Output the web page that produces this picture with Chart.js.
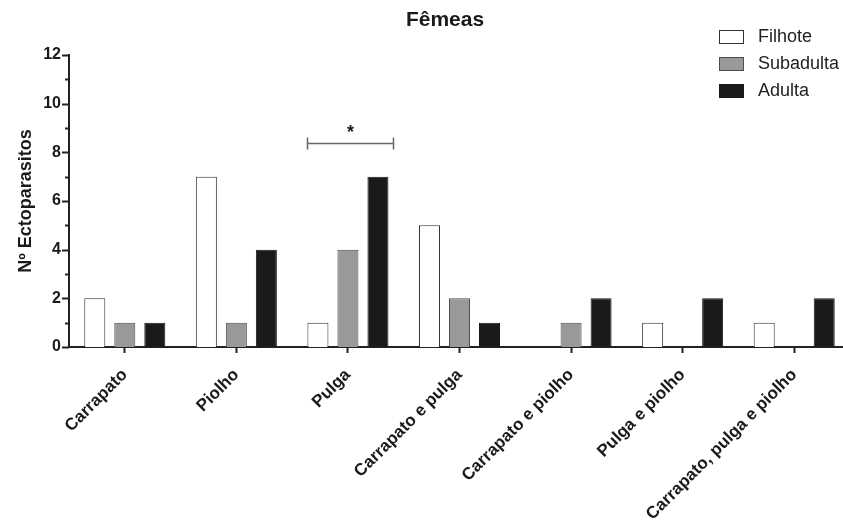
<!DOCTYPE html>
<html>
<head>
<meta charset="utf-8">
<script src="https://cdn.jsdelivr.net/npm/chart.js@4.4.0/dist/chart.umd.min.js"></script>
<style>
  html, body { margin: 0; padding: 0; background: #fff; overflow: hidden; }
  #wrap { position: relative; width: 852px; height: 520px; }
</style>
</head>
<body>
<div id="wrap"><canvas id="chart"></canvas></div>
<script>
// ─── data ───────────────────────────────────────────────────────────────
const TITLE      = 'Fêmeas';
const Y_TITLE    = 'Nº Ectoparasitos';
const categories = ['Carrapato', 'Piolho', 'Pulga', 'Carrapato e pulga',
                    'Carrapato e piolho', 'Pulga e piolho', 'Carrapato, pulga e piolho'];
const filhote    = [2, 7, 1, 5, 0, 1, 1];
const subadulta  = [1, 1, 4, 2, 1, 0, 0];
const adulta     = [1, 4, 7, 1, 2, 2, 2];
const yMin = 0, yMax = 12, yStep = 1, yLabelEvery = 2;

// significance bracket over "Pulga" (category index, offsets in category widths)
const bracket = { cat: 2, from: -0.37, to: 0.40, value: 8.4, label: '*' };

const FONT = '"Liberation Sans", Arial, Helvetica, sans-serif';
const INK  = '#1a1a1a';

Chart.defaults.font.family = FONT;
Chart.defaults.color = INK;

// ─── extra drawing: title, y ticks (major/minor), bracket, legend ──────
const extras = {
  id: 'extras',
  afterDraw(chart) {
    const { ctx, scales: { x, y } } = chart;
    ctx.save();

    // title
    ctx.fillStyle = INK;
    ctx.font = `bold 21px ${FONT}`;
    ctx.textAlign = 'center';
    ctx.textBaseline = 'middle';
    ctx.fillText(TITLE, 445, 20);

    // y ticks: long on labelled values, short otherwise
    ctx.strokeStyle = '#222';
    ctx.lineWidth = 2;
    y.ticks.forEach(t => {
      const py = Math.round(y.getPixelForValue(t.value)) + 0.5;
      const len = t.value % yLabelEvery === 0 ? 7 : 4;
      ctx.beginPath();
      ctx.moveTo(y.right, py);
      ctx.lineTo(y.right - len, py);
      ctx.stroke();
    });

    // bracket
    const cw  = x.width / categories.length;
    const cx  = x.getPixelForValue(bracket.cat);
    const x1  = Math.round(cx + bracket.from * cw) + 0.5;
    const x2  = Math.round(cx + bracket.to * cw) + 0.5;
    const by  = Math.round(y.getPixelForValue(bracket.value)) + 0.5;
    ctx.strokeStyle = '#666';
    ctx.lineWidth = 1.5;
    ctx.beginPath();
    ctx.moveTo(x1, by); ctx.lineTo(x2, by);
    ctx.moveTo(x1, by - 6); ctx.lineTo(x1, by + 6);
    ctx.moveTo(x2, by - 6); ctx.lineTo(x2, by + 6);
    ctx.stroke();
    ctx.fillStyle = INK;
    ctx.font = `bold 18px ${FONT}`;
    ctx.textAlign = 'center';
    ctx.textBaseline = 'middle';
    ctx.fillText(bracket.label, (x1 + x2) / 2, by - 10);

    // legend
    ctx.font = `18px ${FONT}`;
    ctx.textAlign = 'left';
    chart.data.datasets.forEach((ds, i) => {
      const top = 30 + i * 27;
      ctx.fillStyle = ds.backgroundColor;
      ctx.fillRect(719.5, top + 0.5, 24, 13);
      ctx.strokeStyle = ds.borderColor;
      ctx.lineWidth = 1;
      ctx.strokeRect(719.5, top + 0.5, 24, 13);
      ctx.fillStyle = '#222';
      ctx.fillText(ds.label, 758, top + 7);
    });

    ctx.restore();
  }
};

const mkSet = (label, data, fill, border) => ({
  label, data,
  backgroundColor: fill,
  borderColor: border,
  borderWidth: c => (c.raw === 0 ? 0 : 1),
  categoryPercentage: 0.807,
  barPercentage: 0.7,
});

new Chart(document.getElementById('chart'), {
  type: 'bar',
  data: {
    labels: categories,
    datasets: [
      mkSet('Filhote',   filhote,   '#ffffff', '#333333'),
      mkSet('Subadulta', subadulta, '#999999', '#4d4d4d'),
      mkSet('Adulta',    adulta,    '#1a1a1a', '#1a1a1a'),
    ],
  },
  options: {
    responsive: true,
    maintainAspectRatio: false,
    animation: false,
    layout: { padding: { top: 55, right: 2, left: 0, bottom: 0 } },
    plugins: {
      legend: { display: false },
      title: { display: false },
      tooltip: { enabled: false },
    },
    scales: {
      x: {
        afterFit: s => { s.height = 173; },
        grid: { display: true, drawOnChartArea: false, offset: false,
                tickLength: 6, tickColor: '#222', tickWidth: 2 },
        border: { color: '#222', width: 2 },
        ticks: {
          autoSkip: false, maxRotation: 45, minRotation: 45, padding: 12,
          color: INK, font: { size: 17, weight: 'bold' },
        },
      },
      y: {
        min: yMin, max: yMax,
        afterFit: s => { s.width = 69; },
        grid: { display: false, drawTicks: true, tickLength: 7 },
        border: { color: '#222', width: 2 },
        ticks: {
          stepSize: yStep, autoSkip: false, padding: 1,
          color: INK, font: { size: 16, weight: 'bold' },
          callback: v => (v % yLabelEvery === 0 ? v : ''),
        },
        title: {
          display: true, text: Y_TITLE, color: INK,
          font: { size: 18, weight: 'bold' },
          padding: { top: 15, bottom: 0 },
        },
      },
    },
  },
  plugins: [extras],
});
</script>
</body>
</html>
